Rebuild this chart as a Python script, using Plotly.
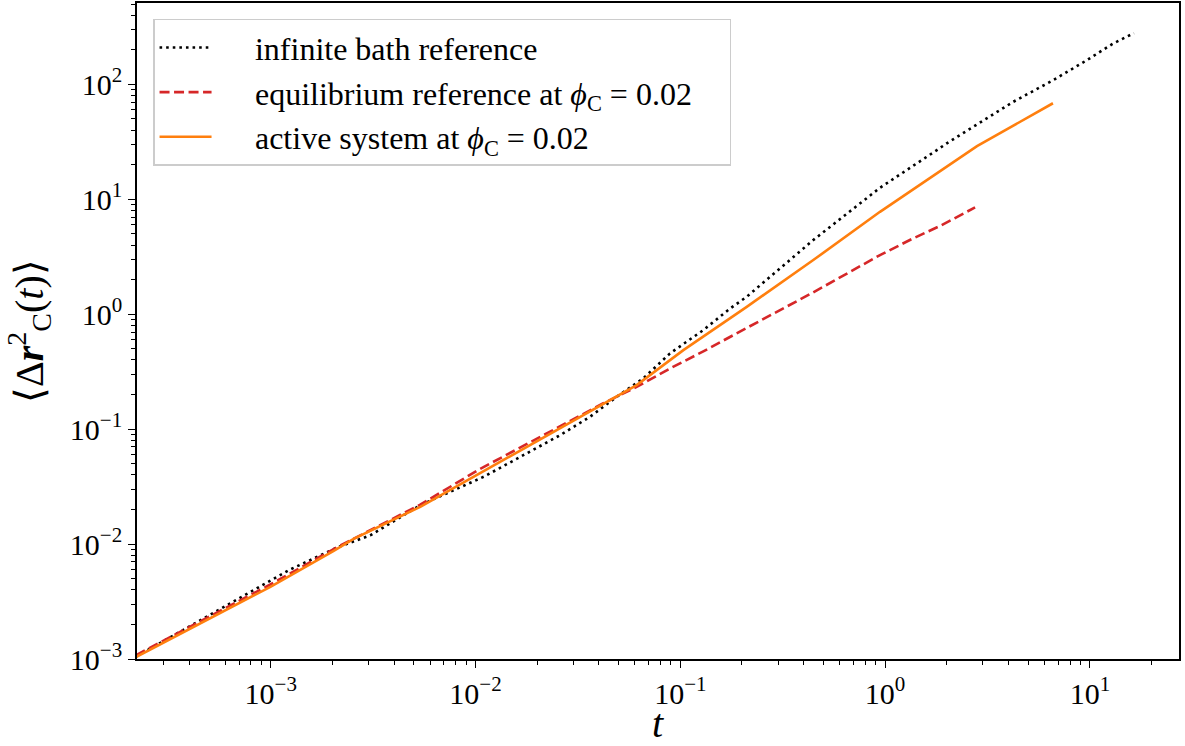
import plotly.graph_objects as go

# infinite bath reference (black dotted)
t_bath = [2.2e-4, 5.36e-4, 1.035e-3, 1.225e-3, 2.11e-3, 3.06e-3, 5.37e-3, 1.096e-2,
          2.59e-2, 3.62e-2, 4.89e-2, 6.59e-2, 8.9e-2, 0.1295, 0.175, 0.211, 0.446,
          0.944, 1.79, 2.0, 4.23, 6.63, 9.64, 13.0, 16.4]
msd_bath = [1.05e-3, 2.57e-3, 5.02e-3, 5.93e-3, 9.34e-3, 1.19e-2, 2.18e-2, 3.85e-2,
            8.87e-2, 0.128, 0.191, 0.276, 0.456, 0.728, 1.12, 1.42, 4.42,
            12.6, 26.8, 30.7, 70.6, 109, 162, 227, 279]

# equilibrium reference at phi_C = 0.02 (red dashed)
t_eq = [2.2e-4, 9.96e-4, 2.11e-3, 5.37e-3, 1.05e-2, 2.40e-2, 4.21e-2, 6.12e-2, 8.9e-2,
        0.1295, 0.175, 0.211, 0.446, 0.944, 1.37, 1.85, 2.75]
msd_eq = [1.08e-3, 4.45e-3, 9.4e-3, 2.2e-2, 4.5e-2, 9.9e-2, 0.168, 0.233, 0.337,
          0.475, 0.64, 0.76, 1.55, 3.27, 4.57, 5.85, 8.5]

# active system at phi_C = 0.02 (orange solid)
t_act = [2.2e-4, 9.96e-4, 2.03e-3, 2.54e-3, 5.37e-3, 1.116e-2, 2.49e-2, 4.21e-2,
         6.12e-2, 0.1035, 0.1397, 0.211, 0.446, 0.944, 2.81, 4.23, 6.6]
msd_act = [1.04e-3, 4.25e-3, 8.73e-3, 1.11e-2, 2.11e-2, 4.40e-2, 9.80e-2, 0.1674,
           0.2415, 0.487, 0.70, 1.16, 2.96, 7.78, 29.0, 44.0, 68.5]

x_tickvals = [1e-3, 1e-2, 1e-1, 1e0, 1e1]
x_ticktext = ["10<sup>−3</sup>", "10<sup>−2</sup>", "10<sup>−1</sup>", "10<sup>0</sup>", "10<sup>1</sup>"]
y_tickvals = [1e-3, 1e-2, 1e-1, 1e0, 1e1, 1e2]
y_ticktext = ["10<sup>−3</sup>", "10<sup>−2</sup>", "10<sup>−1</sup>", "10<sup>0</sup>",
              "10<sup>1</sup>", "10<sup>2</sup>"]

names = ["infinite bath reference",
         "equilibrium reference at <i>ϕ</i><sub>C</sub> = 0.02",
         "active system at <i>ϕ</i><sub>C</sub> = 0.02"]

FONT = "Liberation Serif"
PAD = "\u2002\u2002\u2009"
TAIL = "\u2003"

fig = go.Figure()
fig.add_trace(go.Scatter(x=t_bath, y=msd_bath, mode="lines", name=PAD + names[0] + TAIL,
                         line=dict(color="black", width=2.6, dash="2.6px,4px")))
fig.add_trace(go.Scatter(x=t_eq, y=msd_eq, mode="lines", name=PAD + names[1] + TAIL,
                         line=dict(color="#d62728", width=2.6, dash="10px,4.5px")))
fig.add_trace(go.Scatter(x=t_act, y=msd_act, mode="lines", name=PAD + names[2] + TAIL,
                         line=dict(color="#ff7f0e", width=2.6)))

axis_common = dict(
    type="log", showgrid=False, zeroline=False, automargin=False,
    showline=True, linecolor="black", linewidth=1.6, mirror=True,
    ticks="outside", ticklen=7, tickwidth=1.4, tickcolor="black",
    tickfont=dict(family=FONT, size=30, color="black"),
    minor=dict(ticks="outside", ticklen=4, tickwidth=1.1, tickcolor="black",
               showgrid=False, dtick="D1"),
)

fig.update_layout(
    width=1185, height=746,
    margin=dict(l=137, r=6, t=3, b=87),
    paper_bgcolor="white", plot_bgcolor="white",
    font=dict(family=FONT, color="black"),
    xaxis=dict(axis_common, range=[-3.653, 1.435],
               tickmode="array", tickvals=x_tickvals, ticktext=x_ticktext),
    yaxis=dict(axis_common, range=[-3.0, 2.708],
               tickmode="array", tickvals=y_tickvals, ticktext=y_ticktext),
    legend=dict(x=0.0154, y=0.976, xanchor="left", yanchor="top",
                bgcolor="rgba(255,255,255,0.85)", bordercolor="#cccccc", borderwidth=1.5,
                font=dict(family=FONT, size=32, color="black"),
                itemwidth=52),
    showlegend=True,
    annotations=[
        dict(text="<i>t</i>", xref="paper", yref="paper", x=0.5, y=-0.0976,
             xanchor="center", yanchor="middle", showarrow=False,
             font=dict(family=FONT, size=40, color="black")),
        dict(text="⟨Δ<b><i>r</i></b><sup>2</sup><sub>C</sub>(<i>t</i>)⟩",
             xref="paper", yref="paper", x=-0.1036, y=0.5, textangle=-90,
             xanchor="center", yanchor="middle", showarrow=False,
             font=dict(family=FONT, size=40, color="black")),
    ],
)

fig.write_html("out.html", config={"displayModeBar": False},
               post_script="document.body.style.margin='0px';document.body.style.padding='0px';")
